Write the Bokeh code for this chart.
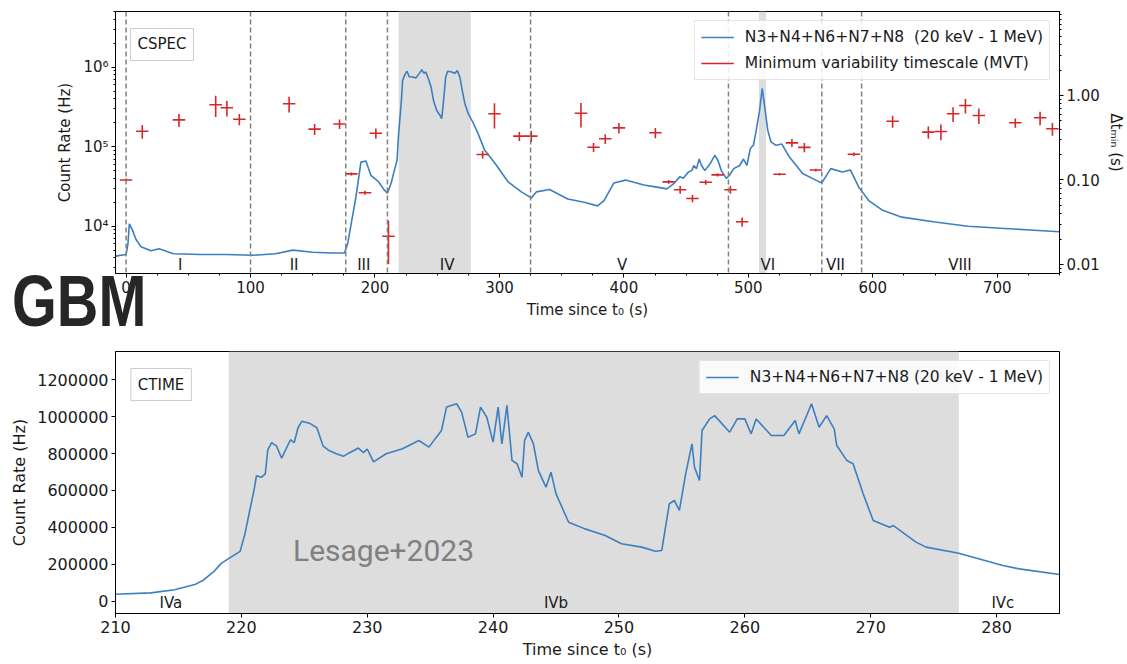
import numpy as np
from bokeh.plotting import figure
from bokeh.layouts import column
from bokeh.models import (Range1d, LogAxis, LogScale, FixedTicker, PrintfTickFormatter,
                          CustomJSTickFormatter, Label, Legend, LegendItem, BoxAnnotation,
                          Span, SingleIntervalTicker, Div)
from bokeh.core.properties import value
from bokeh.embed import file_html
from bokeh.resources import INLINE

# ---------------- data: CSPEC light curve (top) ----------------
cspec_t = [-8.5, 0, 1.5, 2.6, 5.3, 8, 12, 20, 26.5, 38, 60, 80, 101, 120, 134, 150, 165,
           175.5, 178, 181, 184.7, 188.7, 192.7, 196.7, 203, 207, 210, 213, 215.5, 217.7,
           219, 221.2, 222.2, 224.4, 225.7, 227.5, 231, 232.8, 235.5, 237.6, 239.2, 240.8,
           243, 245.1, 247, 249.6, 252.3, 253.6, 254.9, 256.8, 258.4, 261.6, 264.2, 266.1,
           268.2, 270.1, 272.2, 274.9, 278.9, 282.9, 288.2, 296.4, 307, 317.6, 325.6,
           329.6, 340.3, 354.9, 368, 378.8, 384, 392, 401.4, 416, 426.5, 434.5, 439.8,
           445.1, 447.7, 451.8, 454.5, 456.2, 458.3, 460.5, 462.4, 465, 469, 473, 475.6,
           478.3, 482.3, 485, 488.2, 493, 496.1, 498.8, 501.5, 504.1, 506.3, 509, 511.1,
           513.2, 515.6, 518.2, 522.2, 526.9, 533, 543.6, 554.2, 559, 566.2, 575.5, 582,
           588.7, 596.7, 607.4, 623.3, 650, 676.5, 703, 729.7, 750]
cspec_rate = [4200, 4400, 6000, 10700, 8800, 6800, 5500, 4900, 5200, 4500, 4400, 4400,
              4300, 4500, 5000, 4700, 4600, 4600, 6000, 11000, 23400, 64000, 66000, 43700,
              36000, 29000, 26000, 35000, 50000, 67000, 145000, 380000, 680000, 830000,
              890000, 760000, 750000, 730000, 830000, 930000, 840000, 870000, 710000,
              560000, 380000, 285000, 247000, 225000, 350000, 750000, 890000, 870000,
              840000, 910000, 750000, 510000, 350000, 260000, 200000, 145000, 90000,
              62000, 36000, 27000, 22700, 27000, 29000, 22000, 20000, 18000, 21000, 35000,
              38000, 33000, 31000, 29500, 34000, 42000, 40000, 48000, 50000, 58000, 53000,
              70000, 58000, 50000, 60000, 78000, 67000, 50000, 40000, 44000, 53000, 58000,
              70000, 58000, 94000, 105000, 160000, 285000, 540000, 310000, 160000, 115000,
              104000, 108000, 74000, 46000, 38000, 35000, 53000, 48000, 51000, 31000,
              21000, 16000, 13000, 11300, 10000, 9400, 8900, 8500]

# ---------------- data: minimum variability timescale ----------------
mvt_t = [0, 13, 42.5, 72, 81, 91, 131, 151.5, 171.5, 181, 192, 200.7, 210.8, 286.5, 296,
         316, 325.6, 365.5, 375.6, 385, 396, 425.3, 436, 445.2, 455.1, 465.7, 475.3,
         485.6, 495, 525, 535, 545, 554.2, 584.8, 615.9, 644.6, 654.7, 664.5, 674.4,
         685.2, 714.5, 734.4, 744.3]
mvt_dt = [0.10, 0.378, 0.515, 0.776, 0.715, 0.524, 0.797, 0.40, 0.46, 0.118, 0.0707,
          0.358, 0.0216, 0.20, 0.607, 0.33, 0.33, 0.617, 0.244, 0.307, 0.414, 0.362,
          0.095, 0.0766, 0.0604, 0.094, 0.115, 0.0766, 0.032, 0.117, 0.275, 0.243,
          0.131, 0.202, 0.496, 0.368, 0.375, 0.607, 0.761, 0.58, 0.475, 0.544, 0.404]
mvt_err = [0.004, 0.07, 0.09, 0.22, 0.15, 0.08, 0.17, 0.06, 0.06, 0.005, 0.004, 0.05,
           0.0115, 0.02, 0.2, 0.04, 0.05, 0.2, 0.03, 0.04, 0.06, 0.05, 0.005, 0.008,
           0.006, 0.006, 0.005, 0.008, 0.004, 0.004, 0.03, 0.03, 0.005, 0.01, 0.08,
           0.06, 0.08, 0.12, 0.15, 0.12, 0.06, 0.1, 0.07]
mvt_half_bin = 5.0

# ---------------- intervals ----------------
bounds = [0, 100, 176.5, 210, 325, 484, 559, 591]
seg_labels = ["I", "II", "III", "IV", "V", "VI", "VII", "VIII"]
seg_label_t = [43.5, 135, 191, 258, 398.5, 515.6, 570, 670]
shade_top = [(219, 277), (508.5, 514.2)]

# ---------------- data: CTIME light curve (bottom) ----------------
ctime_t = [210, 212.8, 214.7, 216.3, 217.0, 217.8, 218.4, 219.2, 219.9, 220.3, 220.6,
           221.0, 221.2, 221.6, 221.9, 222.1, 222.4, 222.8, 223.2, 223.9, 224.2, 224.5,
           224.8, 225.4, 226.0, 226.5, 227.0, 227.5, 228.1, 228.6, 229.3, 229.7, 230.0,
           230.5, 231.5, 232.8, 234.1, 234.9, 235.9, 236.3, 237.1, 237.5, 238.0, 238.6,
           239.0, 239.5, 240.0, 240.4, 240.7, 241.1, 241.5, 241.9, 242.3, 242.5, 242.8,
           243.2, 243.6, 244.2, 244.6, 245.0, 246.0, 247.3, 248.3, 248.9, 250.2, 251.8,
           252.9, 253.4, 254.0, 254.4, 254.8, 255.3, 255.8, 256.0, 256.4, 256.6, 257.2,
           257.6, 258.8, 259.4, 260.0, 260.5, 260.9, 262.1, 263.1, 264.0, 264.3, 265.3,
           265.9, 266.5, 267.1, 267.3, 268.1, 268.6, 269.4, 270.2, 271.5, 271.8, 273.6,
           274.4, 277.0, 280.5, 281.8, 285.0]
ctime_rate = [38000, 45000, 62000, 90000, 115000, 160000, 205000, 240000, 270000, 370000,
              470000, 600000, 680000, 672000, 690000, 820000, 860000, 840000, 775000,
              875000, 860000, 940000, 975000, 965000, 940000, 840000, 815000, 800000,
              785000, 805000, 830000, 805000, 825000, 755000, 799000, 826000, 871000,
              835000, 925000, 1052000, 1070000, 1025000, 889000, 907000, 1052000, 997000,
              862000, 1052000, 853000, 1061000, 763000, 745000, 672000, 871000, 916000,
              853000, 708000, 618000, 699000, 582000, 428000, 392000, 370000, 356000,
              311000, 293000, 271000, 275000, 528000, 546000, 492000, 690000, 853000,
              726000, 654000, 925000, 988000, 1006000, 916000, 988000, 988000, 907000,
              988000, 898000, 898000, 979000, 907000, 1070000, 943000, 1006000, 934000,
              844000, 763000, 745000, 582000, 437000, 401000, 410000, 320000, 293000,
              260000, 193000, 175000, 145000]
sub_labels = ["IVa", "IVb", "IVc"]
sub_label_t = [214.4, 245.0, 280.5]
shade_bottom = (219, 277)
ctime_yticks = [0, 200000, 400000, 600000, 800000, 1000000, 1200000]

BLUE = "#3c7fc0"
RED = "#d62728"
GREY = "#dddddd"
TXT = "#1a1a1a"
FONT = "DejaVu Sans"


def style_axis(ax, size):
    ax.major_label_text_font = FONT
    ax.major_label_text_font_size = size
    ax.major_label_text_color = TXT
    ax.axis_label_text_font = FONT
    ax.axis_label_text_font_size = size
    ax.axis_label_text_font_style = "normal"
    ax.axis_label_text_color = TXT
    ax.axis_line_color = "black"
    ax.major_tick_in = 0
    ax.major_tick_out = 4
    ax.minor_tick_in = 0
    ax.minor_tick_out = 2
    ax.major_tick_line_color = "black"
    ax.minor_tick_line_color = "black"
    ax.major_label_standoff = 3


# ======================= top panel =======================
p1 = figure(width=1127, height=332, y_axis_type="log",
            x_range=Range1d(-8.5, 750), y_range=Range1d(2.54e3, 5.02e6),
            output_backend="svg", toolbar_location=None,
            min_border_left=115, min_border_right=62, min_border_top=11,
            min_border_bottom=59)
p1.xgrid.visible = False
p1.ygrid.visible = False
p1.outline_line_color = "black"
p1.outline_line_alpha = 1.0

for (a, b) in shade_top:
    p1.add_layout(BoxAnnotation(left=a, right=b, fill_color=GREY, fill_alpha=1.0,
                                line_color=None, level="underlay"))
for b in bounds:
    p1.add_layout(Span(location=b, dimension="height", line_color="#808080",
                       line_dash="5 3", line_width=1.5))

line1 = p1.line(cspec_t, cspec_rate, line_color=BLUE, line_width=1.6)

p1.extra_y_ranges = {"mvt": Range1d(0.00782, 9.86)}
p1.extra_y_scales = {"mvt": LogScale()}
mt = np.array(mvt_t)
md = np.array(mvt_dt)
me = np.array(mvt_err)
hseg = p1.segment(x0=mt - mvt_half_bin, x1=mt + mvt_half_bin, y0=md, y1=md,
                  line_color=RED, line_width=1.6, y_range_name="mvt")
p1.segment(x0=mt, x1=mt, y0=md - me, y1=md + me, line_color=RED, line_width=1.6,
           y_range_name="mvt")

p1.text(x=seg_label_t, y=[3250] * len(seg_label_t), text=seg_labels,
        text_align="center", text_baseline="middle", text_font=value(FONT),
        text_font_size="15px", text_color=TXT)

sup = CustomJSTickFormatter(code="""
const s = {'0':'\u2070','1':'\u00b9','2':'\u00b2','3':'\u00b3','4':'\u2074','5':'\u2075',
           '6':'\u2076','7':'\u2077','8':'\u2078','9':'\u2079','-':'\u207b'};
const e = Math.round(Math.log10(tick));
return '10' + String(e).split('').map(c => s[c]).join('');
""")
p1.yaxis[0].formatter = sup
p1.yaxis[0].axis_label = "Count Rate (Hz)"
style_axis(p1.yaxis[0], "15px")
p1.yaxis[0].axis_label_standoff = 6

p1.xaxis[0].ticker = SingleIntervalTicker(interval=100, num_minor_ticks=4)
p1.xaxis[0].axis_label = "Time since t\u2080 (s)"
style_axis(p1.xaxis[0], "15px")
p1.xaxis[0].axis_label_standoff = 5

minor = [m * 10.0 ** k for k in (-3, -2, -1, 0) for m in range(2, 10)]
rax = LogAxis(y_range_name="mvt", axis_label="\u0394t\u2098\u1d62\u2099 (s)",
              ticker=FixedTicker(ticks=[0.01, 0.1, 1.0], minor_ticks=minor),
              formatter=PrintfTickFormatter(format="%.2f"))
style_axis(rax, "15px")
rax.axis_label_standoff = 4
p1.add_layout(rax, "right")

leg1 = Legend(items=[LegendItem(label="N3+N4+N6+N7+N8  (20 keV - 1 MeV)", renderers=[line1]),
                     LegendItem(label="Minimum variability timescale (MVT)", renderers=[hseg])],
              location="top_right", margin=9, padding=6, spacing=6,
              label_height=20, glyph_height=20, glyph_width=33, label_standoff=11,
              label_text_font=FONT, label_text_font_size="15.5px", label_text_color=TXT,
              border_line_color="#cccccc", border_line_width=1,
              background_fill_color="white", background_fill_alpha=0.85)
p1.add_layout(leg1)

p1.add_layout(Label(x=3.6, y=3.07e6, text="CSPEC", text_align="left", text_baseline="top",
                    text_font=FONT, text_font_size="15px", text_color=TXT,
                    background_fill_color="white", background_fill_alpha=0.85,
                    border_line_color="#cccccc", border_line_width=1, padding=7))

# "GBM" tag that overlaps the gap between the two panels
gbm = Div(text='<span style="display:inline-block;transform:scaleX(0.8);'
               'transform-origin:0 0;white-space:nowrap;">GBM</span>',
          width=200, height=59, margin=(-59, 0, 0, 12),
          styles={"font-family": "'Liberation Sans', Arial, sans-serif",
                  "font-size": "72px", "font-weight": "bold", "color": "#262626",
                  "line-height": "57px", "position": "relative", "z-index": "10",
                  "overflow": "visible"})

# ======================= bottom panel =======================
p2 = figure(width=1127, height=332, x_range=Range1d(210, 285),
            y_range=Range1d(-66700, 1353400),
            output_backend="svg", toolbar_location=None,
            min_border_left=115, min_border_right=62, min_border_top=19,
            min_border_bottom=51)
p2.xgrid.visible = False
p2.ygrid.visible = False
p2.outline_line_color = "black"

p2.add_layout(BoxAnnotation(left=shade_bottom[0], right=shade_bottom[1], fill_color=GREY,
                            fill_alpha=1.0, line_color=None, level="underlay"))
line2 = p2.line(ctime_t, ctime_rate, line_color=BLUE, line_width=1.6)

p2.text(x=sub_label_t, y=[-9700] * len(sub_label_t), text=sub_labels,
        text_align="center", text_baseline="middle", text_font=value(FONT),
        text_font_size="15px", text_color=TXT)

p2.xaxis[0].ticker = SingleIntervalTicker(interval=10, num_minor_ticks=0)
p2.xaxis[0].axis_label = "Time since t\u2080 (s)"
style_axis(p2.xaxis[0], "16px")
p2.xaxis[0].axis_label_standoff = 4

p2.yaxis[0].ticker = FixedTicker(ticks=ctime_yticks)
p2.yaxis[0].formatter = PrintfTickFormatter(format="%d")
p2.yaxis[0].axis_label = "Count Rate (Hz)"
style_axis(p2.yaxis[0], "16px")
p2.yaxis[0].axis_label_standoff = 5

leg2 = Legend(items=[LegendItem(label="N3+N4+N6+N7+N8 (20 keV - 1 MeV)", renderers=[line2])],
              location="top_right", margin=9, padding=6, spacing=6,
              label_height=20, glyph_height=20, glyph_width=33, label_standoff=11,
              label_text_font=FONT, label_text_font_size="15.5px", label_text_color=TXT,
              border_line_color="#cccccc", border_line_width=1,
              background_fill_color="white", background_fill_alpha=0.85)
p2.add_layout(leg2)

p2.add_layout(Label(x=211.22, y=1.261e6, text="CTIME", text_align="left", text_baseline="top",
                    text_font=FONT, text_font_size="15px", text_color=TXT,
                    background_fill_color="white", background_fill_alpha=0.85,
                    border_line_color="#cccccc", border_line_width=1, padding=7))

p2.add_layout(Label(x=224.1, y=274800, text="Lesage+2023", text_align="left",
                    text_baseline="alphabetic", text_font="Roboto",
                    text_font_size="30px", text_color="#808080"))

layout = column(p1, gbm, p2, spacing=0)
open("out.html", "w").write(file_html(layout, INLINE))
